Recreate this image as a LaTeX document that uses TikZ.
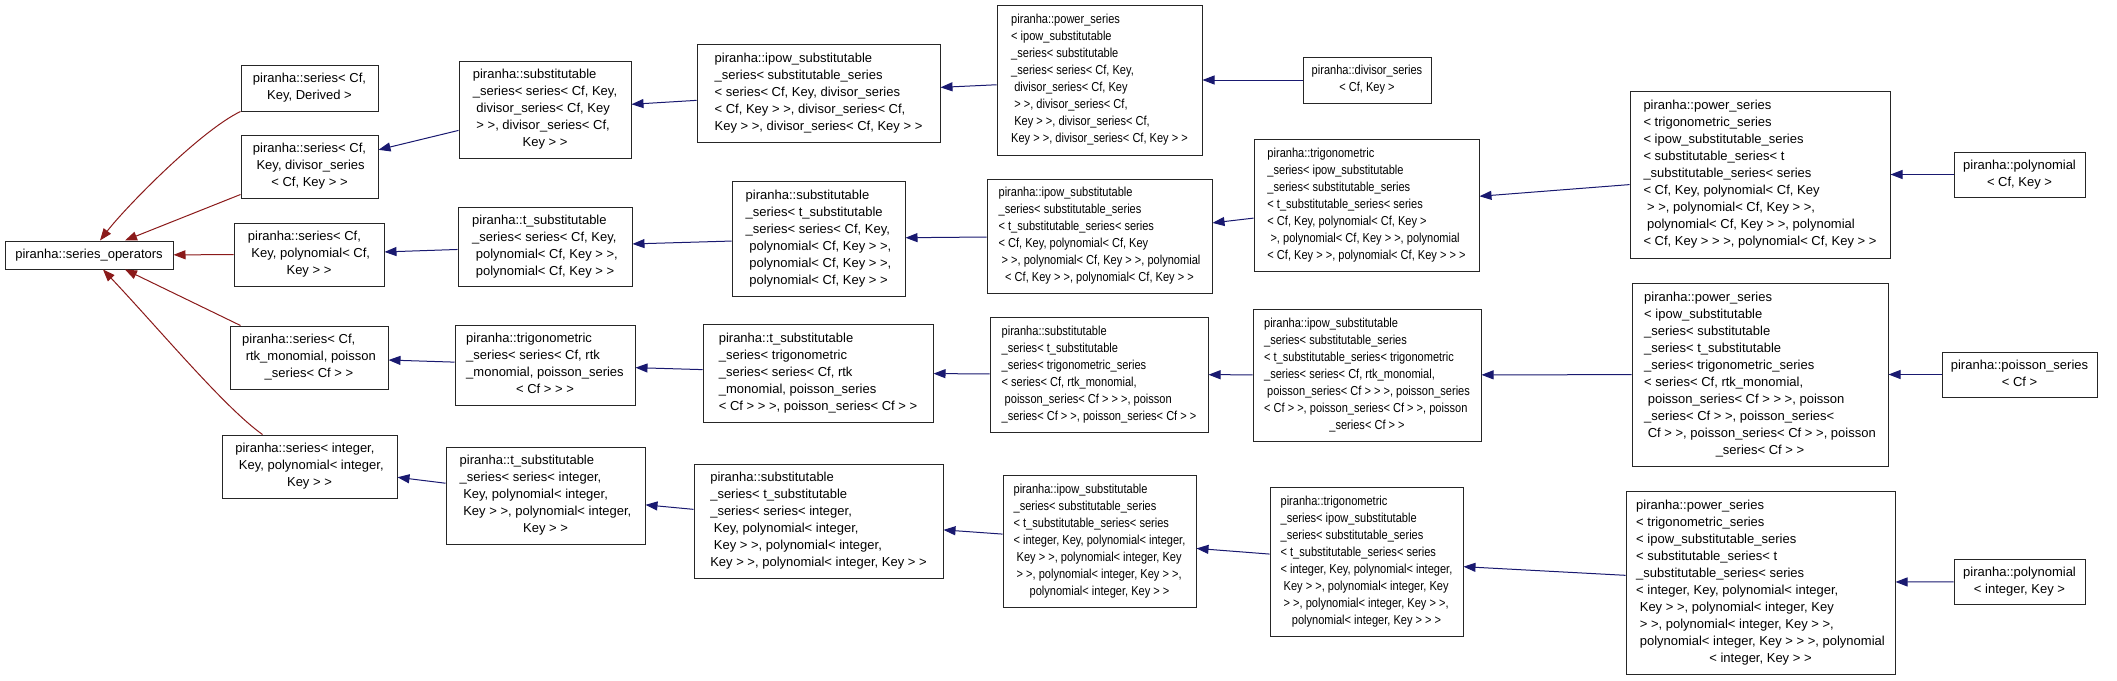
\documentclass[tikz,border=0pt]{standalone}
\usepackage{fontspec}
\setmainfont{Liberation Sans}
\newfontfamily\nsans[FakeStretch=0.85]{Liberation Sans}
\usetikzlibrary{arrows.meta}
\newcommand\dl[2]{\begin{tabular}{@{}l@{}}#1\\\multicolumn{1}{@{}c@{}}{#2}\end{tabular}}
\definecolor{edgered}{HTML}{8B1A1A}
\definecolor{edgeblue}{HTML}{191970}
\begin{document}
\begin{tikzpicture}[x=1pt,y=-1pt,
 box/.style={draw=black!85, line width=1pt, inner sep=0pt, font=\fontsize{13}{17}\selectfont},
 nbox/.style={box, font=\nsans\fontsize{13}{17}\selectfont},
 redge/.style={draw=edgered, line width=1pt, -{Triangle[length=12pt,width=9pt]}},
 bedge/.style={draw=edgeblue, line width=1pt, -{Triangle[length=12pt,width=9pt]}}]
\fill[white] (0,0) rectangle (2117,680);
\useasboundingbox (0,0) rectangle (2117,680);

% column 0
\node[box,minimum width=168pt,minimum height=28pt] (ops) at (89,255) {piranha::series\_operators};
% column 1
\node[box,minimum width=137pt,minimum height=46pt] (N1) at (309.5,88) {\dl{piranha::series< Cf,}{Key, Derived >}};
\node[box,minimum width=137pt,minimum height=63pt] (N2) at (309.5,166.5) {\dl{piranha::series< Cf,\\\ Key, divisor\_series}{< Cf, Key > >}};
\node[box,minimum width=150pt,minimum height=63pt] (N3) at (309,254.5) {\dl{piranha::series< Cf,\\\ Key, polynomial< Cf,}{Key > >}};
\node[box,minimum width=158pt,minimum height=63pt] (N4) at (309,357.5) {\dl{piranha::series< Cf,\\\ rtk\_monomial, poisson}{\_series< Cf > >}};
\node[box,minimum width=175pt,minimum height=63pt] (N5) at (309.5,466.5) {\dl{piranha::series< integer,\\\ Key, polynomial< integer,}{Key > >}};
% column 2
\node[box,minimum width=172pt,minimum height=97pt] (S1) at (545,109.5) {\dl{piranha::substitutable\\\_series< series< Cf, Key,\\\ divisor\_series< Cf, Key\\\ > >, divisor\_series< Cf,}{Key > >}};
\node[box,minimum width=174pt,minimum height=79pt] (T1) at (545,246.5) {\dl{piranha::t\_substitutable\\\_series< series< Cf, Key,\\\ polynomial< Cf, Key > >,}{polynomial< Cf, Key > >}};
\node[box,minimum width=180pt,minimum height=80pt] (G1) at (545,365) {\dl{piranha::trigonometric\\\_series< series< Cf, rtk\\\_monomial, poisson\_series}{< Cf > > >}};
\node[box,minimum width=199pt,minimum height=97pt] (T2) at (545.5,495.5) {\dl{piranha::t\_substitutable\\\_series< series< integer,\\\ Key, polynomial< integer,\\\ Key > >, polynomial< integer,}{Key > >}};
% column 3
\node[box,minimum width=243pt,minimum height=98pt] (I1) at (818.5,93) {\dl{piranha::ipow\_substitutable\\\_series< substitutable\_series\\< series< Cf, Key, divisor\_series\\< Cf, Key > >, divisor\_series< Cf,}{Key > >, divisor\_series< Cf, Key > >}};
\node[box,minimum width=173pt,minimum height=115pt] (S2) at (818.5,238.5) {\dl{piranha::substitutable\\\_series< t\_substitutable\\\_series< series< Cf, Key,\\\ polynomial< Cf, Key > >,\\\ polynomial< Cf, Key > >,}{polynomial< Cf, Key > >}};
\node[box,minimum width=230pt,minimum height=98pt] (T3) at (818,373) {\dl{piranha::t\_substitutable\\\_series< trigonometric\\\_series< series< Cf, rtk\\\_monomial, poisson\_series}{< Cf > > >, poisson\_series< Cf > >}};
\node[box,minimum width=249pt,minimum height=114pt] (S3) at (818.5,521) {\dl{piranha::substitutable\\\_series< t\_substitutable\\\_series< series< integer,\\\ Key, polynomial< integer,\\\ Key > >, polynomial< integer,}{Key > >, polynomial< integer, Key > >}};
% column 4 (narrow text)
\node[nbox,minimum width=205pt,minimum height=150pt] (P1) at (1099.5,80) {\dl{piranha::power\_series\\< ipow\_substitutable\\\_series< substitutable\\\_series< series< Cf, Key,\\\ divisor\_series< Cf, Key\\\ > >, divisor\_series< Cf,\\\ Key > >, divisor\_series< Cf,}{Key > >, divisor\_series< Cf, Key > >}};
\node[nbox,minimum width=225pt,minimum height=114pt] (I2) at (1099.5,236) {\dl{piranha::ipow\_substitutable\\\_series< substitutable\_series\\< t\_substitutable\_series< series\\< Cf, Key, polynomial< Cf, Key\\\ > >, polynomial< Cf, Key > >, polynomial}{< Cf, Key > >, polynomial< Cf, Key > >}};
\node[nbox,minimum width=218pt,minimum height=115pt] (S4) at (1099,374.5) {\dl{piranha::substitutable\\\_series< t\_substitutable\\\_series< trigonometric\_series\\< series< Cf, rtk\_monomial,\\\ poisson\_series< Cf > > >, poisson}{\_series< Cf > >, poisson\_series< Cf > >}};
\node[nbox,minimum width=193pt,minimum height=132pt] (I3) at (1099.5,541) {\dl{piranha::ipow\_substitutable\\\_series< substitutable\_series\\< t\_substitutable\_series< series\\< integer, Key, polynomial< integer,\\\ Key > >, polynomial< integer, Key\\\ > >, polynomial< integer, Key > >,}{polynomial< integer, Key > >}};
% column 5 (narrow text)
\node[nbox,minimum width=128pt,minimum height=46pt] (D1) at (1367,80) {\dl{piranha::divisor\_series}{< Cf, Key >}};
\node[nbox,minimum width=225pt,minimum height=132pt] (G2) at (1366.5,205) {\dl{piranha::trigonometric\\\_series< ipow\_substitutable\\\_series< substitutable\_series\\< t\_substitutable\_series< series\\< Cf, Key, polynomial< Cf, Key >\\\ >, polynomial< Cf, Key > >, polynomial}{< Cf, Key > >, polynomial< Cf, Key > > >}};
\node[nbox,minimum width=228pt,minimum height=132pt] (I4) at (1367,375) {\dl{piranha::ipow\_substitutable\\\_series< substitutable\_series\\< t\_substitutable\_series< trigonometric\\\_series< series< Cf, rtk\_monomial,\\\ poisson\_series< Cf > > >, poisson\_series\\< Cf > >, poisson\_series< Cf > >, poisson}{\_series< Cf > >}};
\node[nbox,minimum width=193pt,minimum height=149pt] (G3) at (1366.5,561.5) {\dl{piranha::trigonometric\\\_series< ipow\_substitutable\\\_series< substitutable\_series\\< t\_substitutable\_series< series\\< integer, Key, polynomial< integer,\\\ Key > >, polynomial< integer, Key\\\ > >, polynomial< integer, Key > >,}{polynomial< integer, Key > > >}};
% column 6
\node[box,minimum width=260pt,minimum height=167pt] (P2) at (1760,174.5) {\dl{piranha::power\_series\\< trigonometric\_series\\< ipow\_substitutable\_series\\< substitutable\_series< t\\\_substitutable\_series< series\\< Cf, Key, polynomial< Cf, Key\\\ > >, polynomial< Cf, Key > >,\\\ polynomial< Cf, Key > >, polynomial}{< Cf, Key > > >, polynomial< Cf, Key > >}};
\node[box,minimum width=256pt,minimum height=183pt] (P3) at (1760,374.5) {\dl{piranha::power\_series\\< ipow\_substitutable\\\_series< substitutable\\\_series< t\_substitutable\\\_series< trigonometric\_series\\< series< Cf, rtk\_monomial,\\\ poisson\_series< Cf > > >, poisson\\\_series< Cf > >, poisson\_series<\\\ Cf > >, poisson\_series< Cf > >, poisson}{\_series< Cf > >}};
\node[box,minimum width=269pt,minimum height=183pt] (P4) at (1760.5,582.5) {\dl{piranha::power\_series\\< trigonometric\_series\\< ipow\_substitutable\_series\\< substitutable\_series< t\\\_substitutable\_series< series\\< integer, Key, polynomial< integer,\\\ Key > >, polynomial< integer, Key\\\ > >, polynomial< integer, Key > >,\\\ polynomial< integer, Key > > >, polynomial}{< integer, Key > >}};
% column 7
\node[box,minimum width=131pt,minimum height=45pt] (PL1) at (2019.5,174.5) {\dl{piranha::polynomial}{< Cf, Key >}};
\node[box,minimum width=155pt,minimum height=45pt] (PS) at (2019.5,374.5) {\dl{piranha::poisson\_series}{< Cf >}};
\node[box,minimum width=131pt,minimum height=45pt] (PL2) at (2019.5,581.5) {\dl{piranha::polynomial}{< integer, Key >}};

% red edges
\draw[redge] (N1.south west) .. controls (200,131) and (125,208) .. ([xshift=11pt]ops.north);
\draw[redge] ([yshift=4pt]N2.south west) -- ([xshift=36pt]ops.north);
\draw[redge] (N3) -- (ops);
\draw[redge] ([xshift=11pt]N4.north west) -- ([xshift=36pt]ops.south);
\draw[redge] ([xshift=41pt]N5.north west) .. controls (225,408) and (160,330) .. ([xshift=14pt]ops.south);

% blue edges
\draw[bedge] (S1) -- (N2);
\draw[bedge] (T1) -- (N3);
\draw[bedge] (G1) -- (N4);
\draw[bedge] (T2) -- (N5);
\draw[bedge] (I1) -- (S1);
\draw[bedge] (S2) -- (T1);
\draw[bedge] (T3) -- (G1);
\draw[bedge] (S3) -- (T2);
\draw[bedge] (P1) -- (I1);
\draw[bedge] (I2) -- (S2);
\draw[bedge] (S4) -- (T3);
\draw[bedge] (I3) -- (S3);
\draw[bedge] (D1) -- (P1);
\draw[bedge] (G2) -- (I2);
\draw[bedge] (I4) -- (S4);
\draw[bedge] (G3) -- (I3);
\draw[bedge] (P2) -- (G2);
\draw[bedge] (P3) -- (I4);
\draw[bedge] (P4) -- (G3);
\draw[bedge] (PL1) -- (P2);
\draw[bedge] (PS) -- (P3);
\draw[bedge] (PL2) -- (P4);
\end{tikzpicture}
\end{document}
